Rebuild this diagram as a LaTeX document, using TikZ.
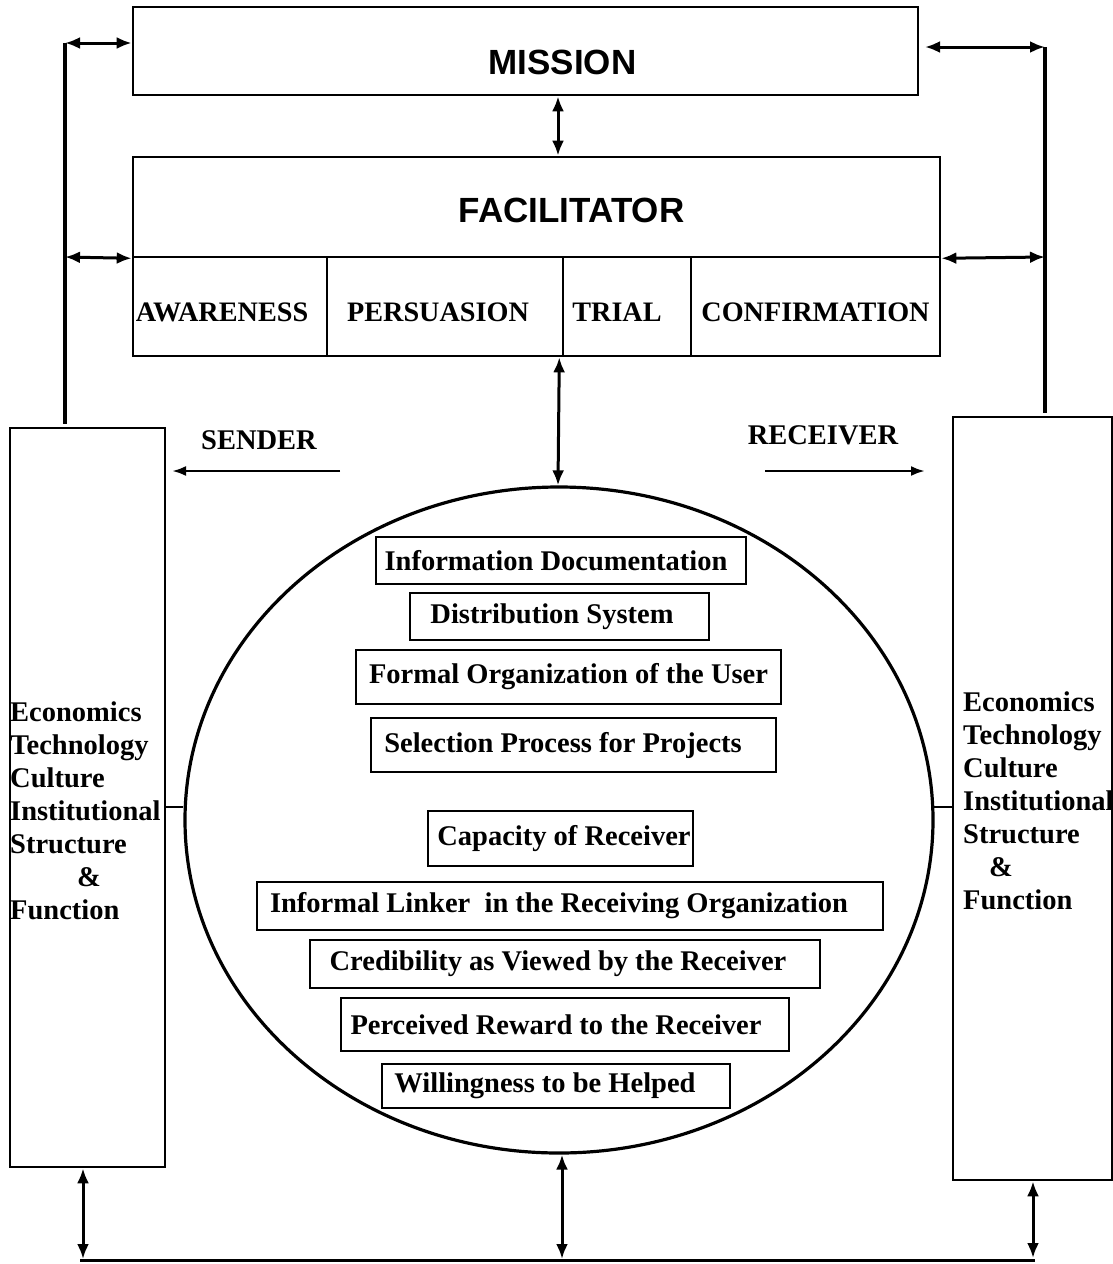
\documentclass[tikz,border=0pt]{standalone}
\usepackage{fontspec}
\setmainfont{Liberation Serif}
\newfontfamily\sansbold{Liberation Sans}
\usetikzlibrary{arrows.meta,shapes.geometric}
\begin{document}
\begin{tikzpicture}[x=1pt,y=-1pt,
  bigbox/.style={draw, line width=2.6pt, inner sep=0pt, rectangle},
  smallbox/.style={draw, line width=1.5pt, inner sep=0pt, rectangle, font=\fontsize{28.5}{33}\selectfont\bfseries},
  stagebox/.style={draw, line width=2.6pt, inner sep=0pt, rectangle, text height=29pt, text depth=0pt, font=\fontsize{28.2}{33}\selectfont\bfseries},
  sidetext/.style={inner sep=0pt, anchor=north west, align=left, font=\fontsize{28.5}{33}\selectfont\bfseries},
  lbl/.style={font=\fontsize{28.5}{33}\selectfont\bfseries},
  head/.style={font=\sansbold\fontsize{35}{40}\selectfont\bfseries},
  dbl/.style={{Latex[length=15pt,width=12pt]}-{Latex[length=15pt,width=12pt]}, line width=3pt},
  sgl/.style={-{Latex[length=14pt,width=10pt]}, line width=2.6pt},
  frame/.style={line width=3.6pt}
]
\useasboundingbox (0,0) rectangle (1113,1264);

% top boxes
\node[bigbox, minimum width=785pt, minimum height=88pt,
      label={[head, xshift=37pt, yshift=-11pt]center:MISSION}] (mission) at (525.5,51) {};
\node[bigbox, minimum width=807pt, minimum height=100pt,
      label={[head, xshift=35pt, yshift=-3pt]center:FACILITATOR}] (fac) at (536.5,207) {};

% stages
\node[stagebox, minimum width=194pt, minimum height=99pt] (aw) at (230,306.5) {\hspace*{-16pt}AWARENESS};
\node[stagebox, minimum width=236pt, minimum height=99pt] (per) at (445,306.5) {\hspace*{-14pt}PERSUASION};
\node[stagebox, minimum width=128pt, minimum height=99pt] (tri) at (627,306.5) {\hspace*{-20pt}TRIAL};
\node[stagebox, minimum width=249pt, minimum height=99pt] (con) at (815.5,306.5) {CONFIRMATION};

% circle
\node[draw, ellipse, line width=3.2pt, minimum width=748pt, minimum height=666pt] (circ) at (559,820) {};

% inner boxes
\node[smallbox, minimum width=370pt, minimum height=47pt] (b1) at (561,560.5) {\hspace*{-10pt}Information Documentation};
\node[smallbox, minimum width=299pt, minimum height=47pt] (b2) at (559.5,616.5) {\hspace*{-15pt}Distribution System};
\node[smallbox, minimum width=425pt, minimum height=54pt] (b3) at (568.5,677) {Formal Organization of the User};
\node[smallbox, minimum width=405pt, minimum height=54pt] (b4) at (573.5,745) {\hspace*{-21pt}Selection Process for Projects};
\node[smallbox, minimum width=265pt, minimum height=55pt] (b5) at (560.5,838.5) {\hspace*{7pt}Capacity of Receiver};
\node[smallbox, minimum width=626pt, minimum height=48pt] (b6) at (570,906) {\hspace*{-22pt}Informal Linker\ \ in the Receiving Organization};
\node[smallbox, minimum width=510pt, minimum height=48pt] (b7) at (565,964) {\hspace*{-14pt}Credibility as Viewed by the Receiver};
\node[smallbox, minimum width=448pt, minimum height=53pt] (b8) at (565,1024.5) {\hspace*{-18pt}Perceived Reward to the Receiver};
\node[smallbox, minimum width=348pt, minimum height=44pt] (b9) at (556,1086) {\hspace*{-22pt}Willingness to be Helped};

% side boxes
\node[bigbox, minimum width=155pt, minimum height=739pt] (leftbox) at (87.5,797.5) {};
\node[bigbox, minimum width=159pt, minimum height=763pt] (rightbox) at (1032.5,798.5) {};
\node[sidetext] (lefttext) at (10,702) {Economics\\Technology\\Culture\\Institutional\\Structure\\\hspace*{67pt}\&\\Function};
\node[sidetext] (righttext) at (963,692) {Economics\\Technology\\Culture\\Institutional\\Structure\\\hspace*{26pt}\&\\Function};

% sender / receiver
\node[lbl] (sender) at (259,440) {SENDER};
\node[lbl] (receiver) at (823,435) {RECEIVER};
\coordinate (sa) at (340,471);
\coordinate (sb) at (172,471);
\coordinate (ra) at (765,471);
\coordinate (rbb) at (925,471);
\draw[sgl] (sa) -- (sb);
\draw[sgl] (ra) -- (rbb);

% outer frame lines
\coordinate (lt) at (65,43);
\coordinate (lm) at (65,257);
\coordinate (lb) at (65,424);
\coordinate (rt) at (1045,47);
\coordinate (rm) at (1045,257);
\coordinate (rbot) at (1045,413);
\draw[frame] (lt) -- (lb);
\draw[frame] (rt) -- (rbot);
\draw[dbl] (lt) -- (mission.west |- lt);
\draw[dbl] (rt) -- (925,47);
\draw[dbl] (lm) -- (fac.south west);
\draw[dbl] (fac.south east) -- (rm);

% vertical links
\draw[dbl] (mission.south -| 558,0) -- (fac.north -| 558,0);
\draw[dbl] (per.south east) ++(-5pt,0) -- (circ.north -| 558,0);

% connectors to circle
\draw[line width=1.2pt] (leftbox.east |- 0,807) -- (circ.west |- 0,807);
\draw[line width=1.2pt] (rightbox.west |- 0,807) -- (932,807);

% bottom
\coordinate (bl) at (83,1259);
\coordinate (bm) at (562,1259);
\coordinate (br) at (1033,1258);
\draw[line width=3pt] (80,1260) -- (1035,1260);
\draw[dbl] (leftbox.south -| bl) -- (bl);
\draw[dbl] (circ.south -| bm) -- (bm);
\draw[dbl] (rightbox.south -| br) -- (br);
\end{tikzpicture}
\end{document}
